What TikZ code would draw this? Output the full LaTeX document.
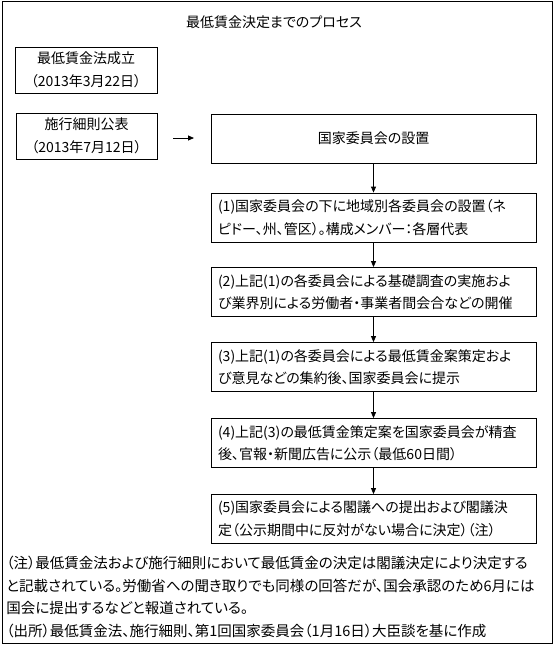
\documentclass[tikz,border=0pt]{standalone}
\usepackage{fontspec}
\setmainfont{Noto Sans CJK JP}[RawFeature=+palt]
\usetikzlibrary{arrows.meta}
\begin{document}
\begin{tikzpicture}[x=1pt, y=-1pt, line width=0.8pt, >={Triangle[length=6pt,width=5pt]},
    box/.style={draw, inner sep=0pt, font=\fontsize{14pt}{22.5pt}\selectfont},
    stepbox/.style={box, minimum width=325pt, minimum height=49pt, text width=311pt, align=left}]
            \useasboundingbox (0,0) rectangle (555,648);
            \draw (2,1) rectangle (552,643);

            \node[font=\fontsize{14pt}{22pt}\selectfont] (title) at (274,22) {最低賃金決定までのプロセス};

            \node[box, minimum width=142pt, minimum height=46pt, align=center] (law) at (86,70) {最低賃金法成立\\（2013年3月22日）};
            \node[box, minimum width=141pt, minimum height=46pt, align=center] (rule) at (86.5,136) {施行細則公表\\（2013年7月12日）};
            \node[box, minimum width=325pt, minimum height=49pt] (nc) at (373.5,138.5) {国家委員会の設置};

            \node[stepbox] (s1) at (373.5,217.5) {(1)国家委員会の下に地域別各委員会の設置（ネ\\ピドー、州、管区）。構成メンバー：各層代表};
            \node[stepbox] (s2) at (373.5,292) {(2)上記(1)の各委員会による基礎調査の実施およ\\び業界別による労働者・事業者間会合などの開催};
            \node[stepbox] (s3) at (373.5,367) {(3)上記(1)の各委員会による最低賃金案策定およ\\び意見などの集約後、国家委員会に提示};
            \node[stepbox] (s4) at (373.5,443) {(4)上記(3)の最低賃金策定案を国家委員会が精査\\後、官報・新聞広告に公示（最低60日間）};
            \node[stepbox] (s5) at (373.5,519) {(5)国家委員会による閣議への提出および閣議決\\定（公示期間中に反対がない場合に決定）（注）};

            \coordinate (a1) at (173,138);
            \coordinate (a2) at (194,138);
            \draw[->] (a1) -- (a2);
            \draw[->] (nc) -- (s1);
            \draw[->] (s1) -- (s2);
            \draw[->] (s2) -- (s3);
            \draw[->] (s3) -- (s4);
            \draw[->] (s4) -- (s5);

            \node[anchor=north west, inner sep=0pt, align=left, font=\fontsize{14.5pt}{22.4pt}\selectfont] (note) at (6,556)
                {（注）最低賃金法および施行細則において最低賃金の決定は閣議決定により決定する\\
                 と記載されている。労働省への聞き取りでも同様の回答だが、国会承認のため6月には\\
                 国会に提出するなどと報道されている。\\
                 （出所）最低賃金法、施行細則、第1回国家委員会（1月16日）大臣談を基に作成};
        \end{tikzpicture}
\end{document}
